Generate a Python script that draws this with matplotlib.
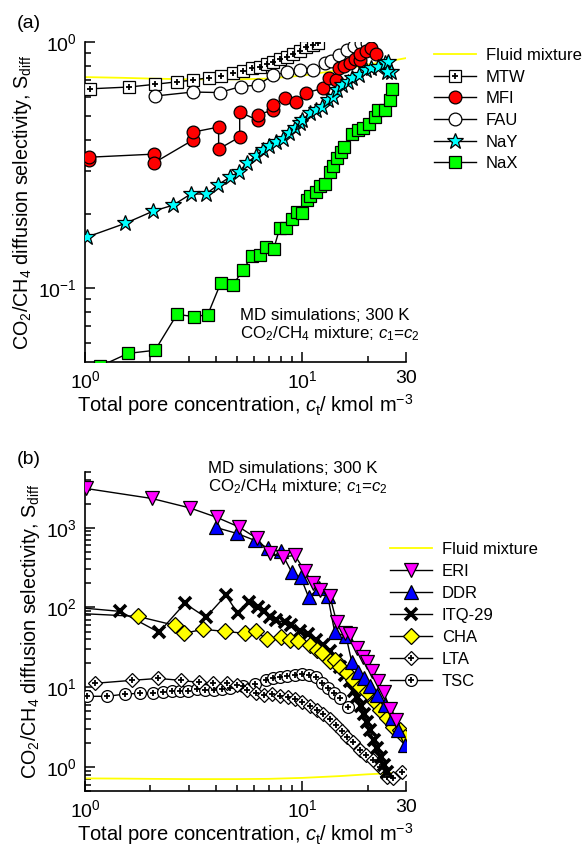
import numpy as np
import matplotlib
matplotlib.use('Agg')
import matplotlib.pyplot as plt
from matplotlib.ticker import FixedLocator, NullFormatter, FixedFormatter

plt.rcParams['font.family'] = ['Liberation Sans', 'DejaVu Sans']
plt.rcParams['mathtext.fontset'] = 'custom'
plt.rcParams['mathtext.rm'] = 'Liberation Sans'
plt.rcParams['mathtext.it'] = 'Liberation Sans:italic'
plt.rcParams['mathtext.bf'] = 'Liberation Sans:bold'

# ---------------- data: panel (a) ----------------
fluid_c = [1, 1.5, 2, 3, 4, 5, 7, 10, 15, 20, 25, 30]
fluid_s = [0.72, 0.715, 0.71, 0.705, 0.705, 0.705, 0.71, 0.73, 0.77, 0.81, 0.835, 0.86]

mtw_c = [1.05, 1.59, 2.10, 2.65, 3.13, 3.71, 4.21, 4.79, 5.32, 5.85, 6.37, 6.85, 7.31, 7.87,
         8.47, 9.03, 9.72, 10.4, 11.2, 11.8]
mtw_s = [0.645, 0.656, 0.673, 0.689, 0.700, 0.716, 0.727, 0.750, 0.762, 0.784, 0.793, 0.811,
         0.831, 0.853, 0.871, 0.894, 0.922, 0.951, 0.972, 0.993]

mfi_c = [1.04, 1.04, 2.07, 2.07, 3.13, 3.13, 4.12, 4.12, 5.15, 5.15, 6.23, 6.23, 7.30, 7.30,
         8.29, 9.4, 10.45, 12.5, 13.3, 14.3, 14.7, 15.6, 16.5, 17.4, 18.5, 18.5, 19.7, 20.8, 21.9]
mfi_s = [0.331, 0.340, 0.350, 0.322, 0.399, 0.430, 0.451, 0.367, 0.411, 0.519, 0.481, 0.505,
         0.529, 0.554, 0.592, 0.572, 0.623, 0.648, 0.714, 0.700, 0.784, 0.799, 0.821, 0.853,
         0.845, 0.894, 0.919, 0.945, 0.894]

fau_c = [2.10, 3.13, 4.16, 5.20, 6.23, 7.30, 8.47, 9.72, 11.15, 12.65, 13.6, 14.8, 16.1, 17.3,
         18.6, 19.9]
fau_s = [0.603, 0.626, 0.623, 0.659, 0.668, 0.731, 0.755, 0.766, 0.769, 0.818, 0.837, 0.885,
         0.928, 0.963, 0.991, 0.991]

nay_c = [1.02, 1.53, 2.05, 2.54, 3.07, 3.60, 4.08, 4.63, 5.10, 5.55, 6.10, 6.57, 7.00, 7.54,
         8.12, 8.65, 9.22, 9.72, 10.0, 10.8, 11.6, 12.3, 13.1, 13.8, 14.5, 15.3, 16.2, 17.0,
         18.3, 19.7, 20.8, 22.2, 23.9, 24.7, 25.7, 24.4]
nay_s = [0.161, 0.183, 0.205, 0.217, 0.241, 0.241, 0.262, 0.282, 0.296, 0.322, 0.344, 0.363,
         0.377, 0.392, 0.403, 0.426, 0.447, 0.468, 0.481, 0.514, 0.529, 0.544, 0.581, 0.597,
         0.638, 0.668, 0.688, 0.714, 0.734, 0.769, 0.784, 0.791, 0.821, 0.829, 0.755, 0.755]

nax_c = [1.17, 1.58, 2.10, 2.65, 3.17, 3.67, 4.21, 4.79, 5.32, 5.85, 6.37, 6.78, 7.38, 7.87,
         8.38, 8.93, 9.41, 9.93, 10.5, 10.9, 11.6, 12.0, 12.7, 13.4, 13.9, 14.5, 15.0, 15.6,
         16.9, 18.0, 19.1, 20.2, 21.7, 22.4, 24.1, 25.2, 26.0]
nax_s = [0.048, 0.0542, 0.0558, 0.0781, 0.0765, 0.0778, 0.1045, 0.1026, 0.118, 0.1346, 0.136,
         0.1464, 0.1437, 0.175, 0.175, 0.190, 0.203, 0.201, 0.2275, 0.236, 0.245, 0.259, 0.264,
         0.296, 0.313, 0.337, 0.357, 0.374, 0.422, 0.438, 0.447, 0.464, 0.495, 0.529, 0.529,
         0.581, 0.644]

# ---------------- data: panel (b) ----------------
eri_c = [1.01, 2.03, 3.04, 4.05, 5.11, 6.18, 7.09, 8.14, 9.24, 10.3, 11.2, 12.0, 13.4, 14.4,
         15.7, 16.5, 17.8, 19.0, 19.8, 20.9, 22.2, 23.7, 25.3, 26.9]
eri_s = [3108, 2328, 1771, 1346, 1023, 735, 476, 431, 450, 283, 200, 164, 138, 65, 47.3, 46,
         30.7, 23.7, 20.5, 15.8, 11.9, 8.6, 5.4, 3.9]

ddr_c = [4.00, 5.00, 6.05, 6.94, 7.96, 8.95, 9.84, 10.7, 11.9, 13.1, 14.1, 15.9, 16.9, 18.0,
         19.2, 20.4, 22.0, 24.0, 25.8, 27.5, 29.6]
ddr_s = [1009, 849, 694, 551, 505, 275, 238, 134, 174, 138, 48.8, 43.5, 20.5, 15.4, 12.9, 10.3,
         7.9, 5.93, 4.08, 2.88, 1.87]

itq_c = [0.92, 1.45, 2.19, 2.88, 3.60, 4.45, 5.05, 5.68, 6.24, 6.65, 7.09, 7.55, 8.31, 8.86,
         9.74, 10.6, 11.5, 12.4, 13.4, 14.3, 14.9, 15.7, 16.5, 17.3, 17.8, 18.6, 19.2, 19.8,
         20.4, 21.3, 22.0, 23.0, 23.7, 24.5]
itq_s = [100, 89.4, 48.8, 112.5, 75.2, 142, 84.4, 116, 100, 89.4, 75.2, 69, 65.1, 59.7, 50.2,
         46, 38.7, 33.5, 28.2, 21.7, 17.8, 14.1, 11.9, 9.1, 7.5, 5.77, 4.58, 3.64, 2.89, 2.16,
         1.72, 1.32, 1.05, 0.857]

cha_c = [0.92, 1.75, 2.59, 2.85, 3.49, 4.40, 5.44, 6.11, 6.87, 7.96, 8.76, 9.53, 10.8, 11.7,
         12.3, 13.4, 14.1, 14.9, 16.0, 17.1, 18.4, 19.8, 21.5, 22.7, 24.5, 26.1, 28.1, 29.6]
cha_s = [84.4, 77.3, 59.7, 47.4, 53.2, 50.2, 47.4, 50.2, 39.9, 42.2, 38.7, 37.6, 33.5, 29,
         26.6, 21.1, 21.7, 17.8, 14.9, 12.2, 9.97, 8.6, 6.47, 5.13, 4.08, 3.14, 2.88, 2.36]

lta_c = [1.11, 1.64, 2.17, 2.76, 3.34, 3.88, 4.50, 5.00, 5.56, 6.11, 6.65, 7.24, 7.88, 8.58,
         9.24, 9.95, 10.8, 11.7, 12.4, 13.4, 14.3, 15.2, 16.0, 17.1, 18.4, 19.6, 21.1, 22.7,
         24.5, 26.1, 28.7]
lta_s = [11.2, 12.2, 12.9, 12.2, 11.5, 11.2, 11.2, 10.6, 9.14, 8.39, 7.92, 8.15, 7.69, 7.47,
         7.05, 6.47, 5.77, 5.14, 4.58, 3.96, 3.33, 2.80, 2.36, 2.04, 1.62, 1.40, 1.21, 0.99,
         0.743, 0.722, 0.859]

tsc_c = [1.02, 1.26, 1.53, 1.79, 2.05, 2.28, 2.51, 2.73, 2.98, 3.27, 3.56, 3.92, 4.27, 4.64,
         5.33, 6.05, 6.80, 7.32, 7.88, 8.49, 9.24, 9.95, 10.7, 11.5, 12.3, 13.1, 14.0, 14.9, 16.2]
tsc_s = [7.7, 7.7, 8.2, 8.4, 8.4, 8.6, 8.9, 9.1, 9.1, 9.4, 9.3, 9.2, 9.5, 9.7, 10.3, 10.9,
         12.2, 12.9, 13.3, 13.7, 14.1, 14.5, 14.1, 13.3, 11.2, 9.7, 8.4, 7.3, 5.6]

xtick_vals = [1, 10, 30]
xtick_labels = ['$10^0$', '$10^1$', '30']

# ---------------- figure ----------------
W, H = 582, 846
fig = plt.figure(figsize=(W / 100, H / 100), dpi=100)
axa = fig.add_axes([85 / W, 1 - 362 / H, (406 - 85) / W, (362 - 42) / H])
axb = fig.add_axes([85 / W, 1 - 791 / H, (406 - 85) / W, (791 - 472) / H])

FS_TICK = 14
FS_XLAB = 14.5
FS_YLAB = 14.2
FS_LEG = 12
FS_ANN = 12.2
LW = 1.0
EW = 0.9


def plain(ax, x, y, label, marker, face, ms, z=3, mew=EW):
    h, = ax.plot(x, y, '-', color='black', lw=LW, marker=marker, ms=ms,
                 mfc=face, mec='black', mew=mew, label=label, zorder=z)
    return h


def plus(ax, x, y, label, marker, ms, z=3, pms=4.5):
    h, = ax.plot(x, y, '-', color='black', lw=LW, marker=marker, ms=ms,
                 mfc='white', mec='black', mew=EW, zorder=z)
    p, = ax.plot(x, y, ls='none', marker='+', ms=pms, mew=1.3, color='black', zorder=z + 0.1)
    return (h, p)


def style_axis(ax, ylim, yticks, ylabels, yminor, xpad):
    ax.set_xscale('log')
    ax.set_yscale('log')
    ax.set_xlim(1, 30)
    ax.set_ylim(*ylim)
    ax.spines['top'].set_visible(False)
    ax.spines['right'].set_visible(False)
    for s in ('left', 'bottom'):
        ax.spines[s].set_linewidth(1.2)
    ax.xaxis.set_major_locator(FixedLocator(xtick_vals))
    ax.xaxis.set_major_formatter(FixedFormatter(xtick_labels))
    ax.xaxis.set_minor_locator(FixedLocator([2, 3, 4, 5, 6, 7, 8, 9, 20]))
    ax.xaxis.set_minor_formatter(NullFormatter())
    ax.yaxis.set_major_locator(FixedLocator(yticks))
    ax.yaxis.set_major_formatter(FixedFormatter(ylabels))
    ax.yaxis.set_minor_locator(FixedLocator(yminor))
    ax.yaxis.set_minor_formatter(NullFormatter())
    ax.tick_params(which='both', direction='in', top=False, right=False,
                   labelsize=FS_TICK, width=1.1)
    ax.tick_params(which='major', length=7, pad=6)
    ax.tick_params(which='minor', length=4)
    ax.set_xlabel('Total pore concentration, $c_{\\mathrm{t}}$/ kmol m$^{-3}$',
                  fontsize=FS_XLAB, labelpad=xpad)
    ax.set_ylabel('CO$_2$/CH$_4$ diffusion selectivity, S$_{\\mathrm{diff}}$',
                  fontsize=FS_YLAB, labelpad=3)


# ---------- panel (a) ----------
h_fl, = axa.plot(fluid_c, fluid_s, '-', color='#ffff00', lw=1.3, label='Fluid mixture', zorder=2)
h_mtw = plus(axa, mtw_c, mtw_s, 'MTW', 's', 8.0, z=3, pms=5.0)
h_fau = plain(axa, fau_c, fau_s, 'FAU', 'o', 'white', 9.2, z=3)
h_mfi = plain(axa, mfi_c, mfi_s, 'MFI', 'o', '#ff0000', 9.2, z=4)
h_nay = plain(axa, nay_c, nay_s, 'NaY', '*', '#00ffff', 12, z=5)
h_nax = plain(axa, nax_c, nax_s, 'NaX', 's', '#00ff00', 8.0, z=5)

ya_minor = [0.06, 0.07, 0.08, 0.09, 0.2, 0.3, 0.4, 0.5, 0.6, 0.7, 0.8, 0.9]
style_axis(axa, (0.05, 1.0), [0.1, 1.0], ['$10^{-1}$', '$10^0$'], ya_minor, xpad=0)

fig.legend([h_fl, h_mtw, h_mfi, h_fau, h_nay, h_nax],
           ['Fluid mixture', 'MTW', 'MFI', 'FAU', 'NaY', 'NaX'],
           loc='upper left', bbox_to_anchor=(434 / W, 1 - 48 / H), frameon=False,
           fontsize=FS_LEG, handlelength=2.5, handletextpad=0.6, labelspacing=0.4,
           borderpad=0, borderaxespad=0)

fig.text(240 / W, 1 - 315 / H, 'MD simulations; 300 K', fontsize=FS_ANN, va='center', ha='left')
fig.text(240 / W, 1 - 334 / H, 'CO$_2$/CH$_4$ mixture; $c_1$=$c_2$', fontsize=FS_ANN,
         va='center', ha='left')
fig.text(17 / W, 1 - 24 / H, '(a)', fontsize=14, va='center', ha='left')

# ---------- panel (b) ----------
h_fl2, = axb.plot(fluid_c, fluid_s, '-', color='#ffff00', lw=1.3, zorder=2)
h_tsc = plus(axb, tsc_c, tsc_s, 'TSC', 'o', 8.5, z=3, pms=4.5)
h_lta = plus(axb, lta_c, lta_s, 'LTA', 'D', 7.5, z=3, pms=4.5)
h_itq = plain(axb, itq_c, itq_s, 'ITQ-29', 'x', 'black', 8.5, z=4, mew=2.6)
h_cha = plain(axb, cha_c, cha_s, 'CHA', 'D', '#ffff00', 8.0, z=4)
h_ddr = plain(axb, ddr_c, ddr_s, 'DDR', '^', '#0000ff', 9.5, z=5)
h_eri = plain(axb, eri_c, eri_s, 'ERI', 'v', '#ff00ff', 9.5, z=5)

yb_minor = [v * m for v in (0.1, 1, 10, 100, 1000) for m in range(2, 10)]
yb_minor = [v for v in yb_minor if 0.5 <= v <= 5000]
style_axis(axb, (0.5, 5000), [1, 10, 100, 1000],
           ['$10^0$', '$10^1$', '$10^2$', '$10^3$'], yb_minor, xpad=0)

fig.legend([h_fl2, h_eri, h_ddr, h_itq, h_cha, h_lta, h_tsc],
           ['Fluid mixture', 'ERI', 'DDR', 'ITQ-29', 'CHA', 'LTA', 'TSC'],
           loc='upper left', bbox_to_anchor=(390 / W, 1 - 542 / H), frameon=False,
           fontsize=FS_LEG, handlelength=2.5, handletextpad=0.6, labelspacing=0.42,
           borderpad=0, borderaxespad=0)

fig.text(208 / W, 1 - 468 / H, 'MD simulations; 300 K', fontsize=FS_ANN, va='center', ha='left')
fig.text(208 / W, 1 - 487 / H, 'CO$_2$/CH$_4$ mixture; $c_1$=$c_2$', fontsize=FS_ANN,
         va='center', ha='left')
fig.text(17 / W, 1 - 459 / H, '(b)', fontsize=14, va='center', ha='left')

fig.savefig('out.png', dpi=100)
